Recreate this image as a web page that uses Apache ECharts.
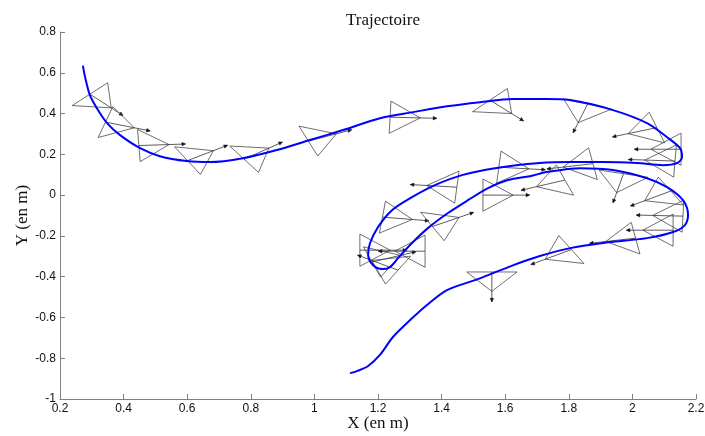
<!DOCTYPE html>
<html>
<head>
<meta charset="utf-8">
<script src="https://cdn.jsdelivr.net/npm/echarts@6/dist/echarts.min.js"></script>
<style>html,body{margin:0;padding:0;background:#fff;}#c{width:705px;height:436px;}</style>
</head>
<body>
<div id="c"></div>
<script>
// Blue trajectory (X, Y in metres)
const trajX = [0.272,0.279,0.294,0.316,0.348,0.389,0.452,0.514,0.599,0.672,0.775,0.882,0.986,1.090,1.206,1.310,1.417,1.521,1.625,1.731,1.804,1.939,2.046,2.109,2.150,2.156,2.140,2.096,2.014,1.908,1.804,1.709,1.568,1.464,1.379,1.307,1.244,1.200,1.175,1.169,1.184,1.213,1.238,1.263,1.307,1.357,1.420,1.483,1.546,1.609,1.678,1.731,1.835,1.939,2.046,2.109,2.159,2.175,2.165,2.128,2.046,1.908,1.804,1.709,1.618,1.514,1.417,1.354,1.301,1.247,1.206,1.169,1.134,1.112];
const trajY = [0.635,0.578,0.490,0.426,0.353,0.294,0.230,0.191,0.167,0.162,0.181,0.221,0.270,0.319,0.377,0.407,0.436,0.456,0.471,0.471,0.466,0.417,0.353,0.284,0.230,0.186,0.157,0.147,0.157,0.162,0.162,0.157,0.132,0.098,0.049,-0.010,-0.074,-0.157,-0.235,-0.294,-0.343,-0.363,-0.353,-0.309,-0.235,-0.162,-0.088,-0.025,0.034,0.074,0.093,0.113,0.132,0.123,0.083,0.039,-0.025,-0.098,-0.147,-0.181,-0.211,-0.235,-0.260,-0.299,-0.348,-0.412,-0.466,-0.539,-0.613,-0.696,-0.784,-0.838,-0.863,-0.873];

// Robot poses (triangle base midpoint and heading in degrees)
const poseX = [0.294,0.343,0.448,0.601,0.779,0.981,1.238,1.552,1.859,2.077,2.153,2.134,1.972,2.121,2.159,2.128,2.010,1.808,1.558,1.580,1.530,1.876,1.788,1.448,1.214,1.371,1.143,1.181,1.348,1.263];
const poseY = [0.495,0.358,0.243,0.169,0.176,0.265,0.382,0.466,0.446,0.331,0.225,0.167,0.105,0.020,-0.103,-0.172,-0.211,-0.267,-0.377,0.137,0.000,0.154,0.074,0.039,-0.108,-0.154,-0.270,-0.328,-0.275,-0.368];
const poseTheta = [-45,-17,3,31,35,22,-2,-44,-108,-162,180,177,-103,-150,178,180,-170,-150,-90,-5,0,-170,-160,175,-7,28,0,20,180,150];

const HALF_BASE = 0.079, APEX = 0.095, ARROW = 0.147;

const chart = echarts.init(document.getElementById('c'), null, {renderer: 'canvas'});

function renderPose(params, api) {
  const x = api.value(0), y = api.value(1), t = api.value(2) * Math.PI / 180;
  const c = Math.cos(t), s = Math.sin(t);
  const p = (dx, dy) => api.coord([x + dx, y + dy]);
  const b1 = p(-HALF_BASE * s, HALF_BASE * c);
  const b2 = p(HALF_BASE * s, -HALF_BASE * c);
  const ap = p(APEX * c, APEX * s);
  const m = p(0, 0);
  const tip = p(ARROW * c, ARROW * s);
  const a = Math.atan2(tip[1] - m[1], tip[0] - m[0]);
  const L = 4, W = 0.45;
  const h1 = [tip[0] - L * Math.cos(a - W), tip[1] - L * Math.sin(a - W)];
  const h2 = [tip[0] - L * Math.cos(a + W), tip[1] - L * Math.sin(a + W)];
  return {
    type: 'group',
    children: [
      {type: 'polygon', shape: {points: [b1, ap, b2]}, style: {fill: 'none', stroke: '#4a4a4a', lineWidth: 0.8}},
      {type: 'line', shape: {x1: m[0], y1: m[1], x2: tip[0], y2: tip[1]}, style: {stroke: '#333', lineWidth: 0.8}},
      {type: 'polygon', shape: {points: [tip, h1, h2]}, style: {fill: '#111', stroke: '#111', lineWidth: 0.5}}
    ]
  };
}

const axisCommon = {
  axisLine: {show: true, onZero: false, lineStyle: {color: '#808080', width: 1}},
  axisTick: {show: true, inside: true, length: 5, lineStyle: {color: '#808080'}},
  splitLine: {show: false},
  axisLabel: {color: '#111', fontFamily: 'Liberation Sans', fontSize: 12, margin: 4},
  nameTextStyle: {color: '#111', fontFamily: 'Liberation Serif', fontSize: 17},
  nameMoveOverlap: false
};

chart.setOption({
  animation: false,
  backgroundColor: '#fff',
  title: {
    text: 'Trajectoire', left: 378, top: 7, textAlign: 'center',
    textStyle: {fontFamily: 'Liberation Serif', fontWeight: 'normal', fontSize: 17, color: '#111'}
  },
  grid: {left: 60, right: 9, top: 32, bottom: 37, containLabel: false, outerBoundsMode: 'none'},
  xAxis: Object.assign({}, axisCommon, {
    type: 'value', min: 0.2, max: 2.2, interval: 0.2,
    name: 'X (en m)', nameLocation: 'middle', nameGap: 16
  }),
  yAxis: Object.assign({}, axisCommon, {
    type: 'value', min: -1, max: 0.8, interval: 0.2,
    name: 'Y (en m)', nameLocation: 'middle', nameGap: 29
  }),
  series: [
    {
      type: 'custom',
      renderItem: renderPose,
      data: poseX.map((v, i) => [v, poseY[i], poseTheta[i]]),
      silent: true,
      z: 2
    },
    {
      type: 'line',
      data: trajX.map((v, i) => [v, trajY[i]]),
      showSymbol: false,
      smooth: 0.3,
      lineStyle: {color: '#0000ff', width: 2},
      z: 3
    }
  ]
});
</script>
</body>
</html>
